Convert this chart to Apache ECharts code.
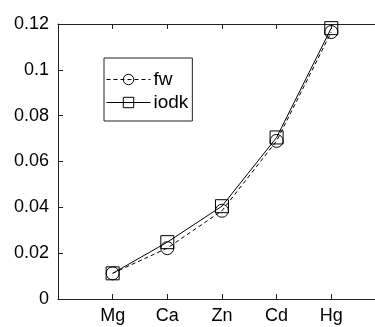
<!DOCTYPE html>
<html><head><meta charset="utf-8">
<script src="https://cdn.jsdelivr.net/npm/echarts@6/dist/echarts.min.js"></script>
<style>html,body{margin:0;padding:0;background:#fff}#c{width:375px;height:327px}</style>
</head><body><div id="c"></div>
<script>
const categories = ['Mg', 'Ca', 'Zn', 'Cd', 'Hg'];
const fw = [0.0112, 0.0222, 0.0385, 0.0690, 0.1165];
const iodk = [0.0112, 0.0248, 0.0405, 0.0705, 0.1182];
const yTicks = { min: 0, max: 0.12, step: 0.02 };

const chart = echarts.init(document.getElementById('c'), null, { renderer: 'canvas' });
const FONT = 'Liberation Sans, Arial, sans-serif';
const toPts = arr => arr.map((v, i) => [i + 1, v]);
const xBase = {
  type: 'value', min: 0, max: 5.8, interval: 1,
  axisLine: { show: true, lineStyle: { color: '#222', width: 1 } },
  axisTick: { show: true, inside: true, length: 5, lineStyle: { color: '#222' } },
  splitLine: { show: false },
  axisLabel: { showMaxLabel: false, showMinLabel: false }
};
chart.setOption({
  animation: false,
  backgroundColor: '#fff',
  grid: { left: 58, top: 24, right: 0, bottom: 28 },
  xAxis: [
    Object.assign({}, xBase, {
      position: 'bottom',
      axisLabel: { margin: 8, color: '#000', fontSize: 18, fontFamily: FONT,
        showMaxLabel: false,
        formatter: v => (Number.isInteger(v) && categories[v - 1]) ? categories[v - 1] : '' }
    }),
    Object.assign({}, xBase, { position: 'top', axisLabel: { show: false } })
  ],
  yAxis: {
    type: 'value', min: yTicks.min, max: yTicks.max, interval: yTicks.step,
    axisLine: { show: true, lineStyle: { color: '#222', width: 1 } },
    axisTick: { show: true, inside: true, length: 5, lineStyle: { color: '#222' } },
    splitLine: { show: false },
    axisLabel: { margin: 9, color: '#000', fontSize: 18, fontFamily: FONT,
      formatter: v => String(+v.toFixed(2)) }
  },
  legend: {
    orient: 'vertical', left: 104, top: 58,
    padding: [12, 4, 9, 2],
    itemWidth: 44, itemHeight: 13, itemGap: 4,
    borderColor: '#222', borderWidth: 1,
    lineStyle: { width: 1 },
    itemStyle: { borderWidth: 1 },
    textStyle: { fontSize: 19, fontFamily: FONT, color: '#000', padding: [0, 0, 0, -2] },
    data: ['fw', 'iodk']
  },
  series: [
    {
      name: 'fw', type: 'line', data: toPts(fw),
      symbol: 'circle', symbolSize: 13,
      lineStyle: { color: '#000', width: 1, type: [4, 3] },
      itemStyle: { color: 'rgba(0,0,0,0)', borderColor: '#000', borderWidth: 1 }
    },
    {
      name: 'iodk', type: 'line', data: toPts(iodk),
      symbol: 'rect', symbolSize: 13,
      lineStyle: { color: '#000', width: 1, type: 'solid' },
      itemStyle: { color: 'rgba(0,0,0,0)', borderColor: '#000', borderWidth: 1 }
    }
  ]
});
</script></body></html>
